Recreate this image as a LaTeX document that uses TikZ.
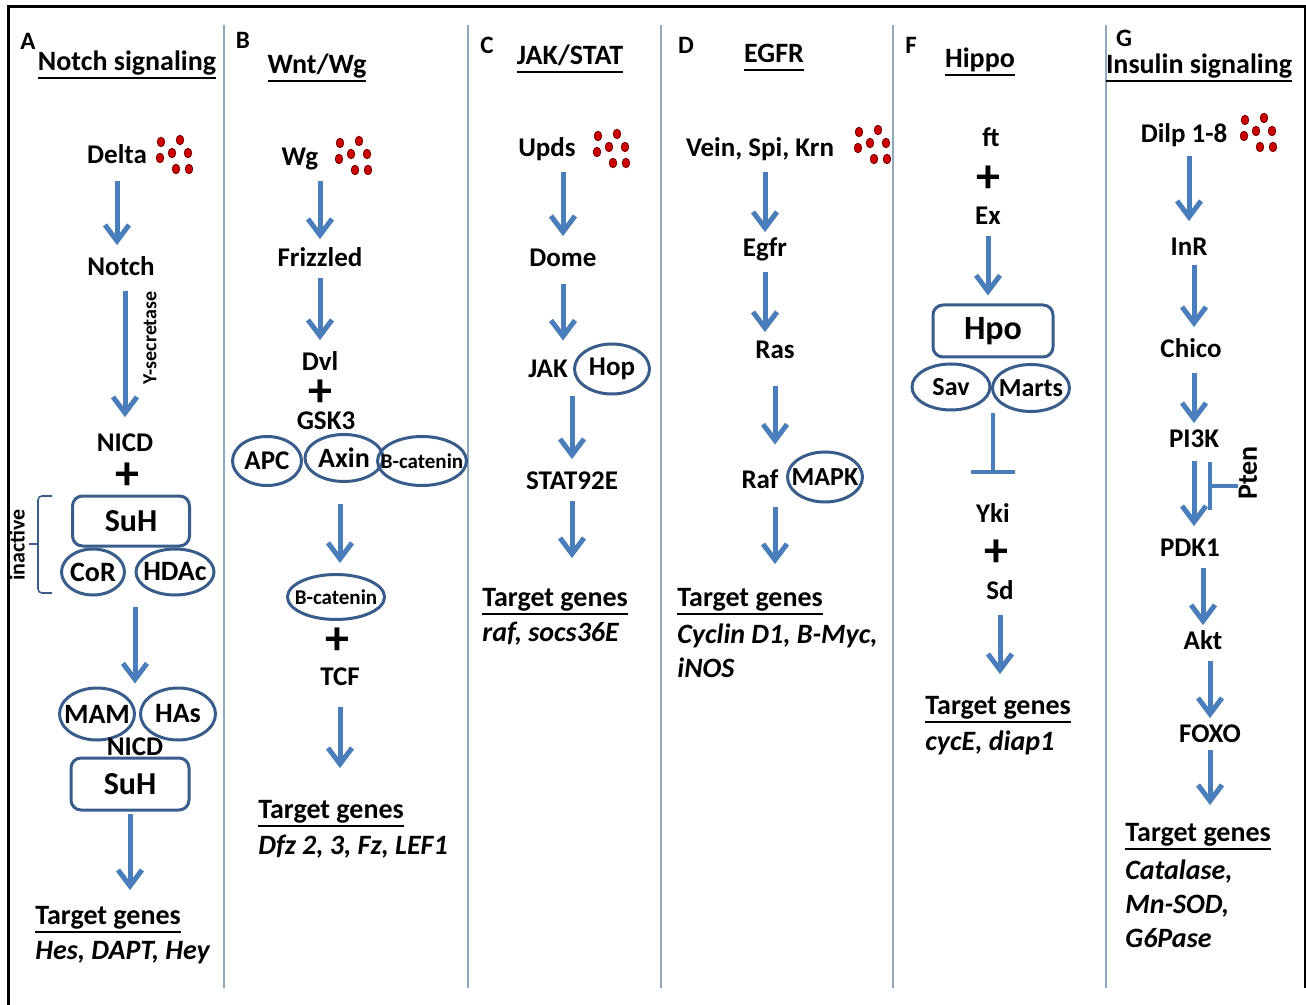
\documentclass[tikz,border=0pt]{standalone}
\usepackage{fontspec}
\setmainfont{Carlito}
\usetikzlibrary{positioning, shapes.geometric, arrows.meta}

\definecolor{sigblue}{RGB}{74,126,187}
\definecolor{cmpline}{RGB}{56,93,138}
\definecolor{divline}{RGB}{143,168,190}
\definecolor{dotred}{RGB}{205,0,0}
\definecolor{dotdark}{RGB}{110,0,0}

% underline below the descenders
\newcommand{\uln}[1]{\setbox0\hbox{#1}\rlap{\rule[-4.3pt]{\wd0}{1pt}}\box0}
% text of fixed-size ellipses, centred in a zero-width box
\newcommand{\zb}[1]{\makebox[0pt]{#1}}
% cluster of ligand dots round (x,y), in pixels
\newcommand{\ligand}[2]{%
  \foreach \dx/\dy in {-13/-13,6/-15,-2/-2,14/-2,-14/3,2/14,15/14}
    \filldraw[fill=dotred, draw=dotdark, line width=0.4pt] (#1+\dx,#2+\dy) ellipse (1.9pt and 2.4pt);}

\begin{document}
\begin{tikzpicture}[x=0.5pt, y=-0.5pt,
lbl/.style={font=\fontsize{13.5}{16}\selectfont\bfseries, text height=11pt, text depth=2.5pt, inner sep=1pt},
ttl/.style={font=\fontsize{14}{17}\selectfont\bfseries, inner sep=1pt},
pnl/.style={font=\fontsize{12.5}{14}\selectfont\bfseries, inner sep=0pt},
tgt/.style={font=\fontsize{14}{17}\selectfont\bfseries, anchor=west, text height=11pt, text depth=2.5pt, inner xsep=0pt, inner ysep=1pt},
gene/.style={font=\fontsize{14}{17}\selectfont\bfseries\itshape, anchor=west, align=left, inner sep=0pt},
plus/.style={font=\fontsize{24}{24}\selectfont\bfseries, inner sep=-3pt},
vtxt/.style={font=\fontsize{10}{12}\selectfont\bfseries, rotate=90, inner sep=0pt},
cmp/.style={ellipse, draw=cmpline, line width=1.5pt, inner sep=0pt, font=\fontsize{14}{16}\selectfont\bfseries},
rbox/.style={rectangle, rounded corners=5pt, draw=cmpline, line width=1.5pt, inner sep=0pt},
sig/.style={draw=sigblue, line width=2.5pt, -{Straight Barb[length=8pt, width=12pt]}, shorten <=4pt, shorten >=3pt},
inh/.style={draw=sigblue, line width=2pt, -{Bar[width=22pt]}}]
\useasboundingbox (0,0) rectangle (1306,1005);

% frame and column rules
\draw[line width=1.5pt] (8,1005) -- (8,7) -- (1305,7) -- (1305,988);
\foreach \xd in {224,468,661,893,1106}
  \draw[divline, line width=0.8pt] (\xd,25) -- (\xd,988);

% A: Notch
\node[pnl] (pA) at (28,41) {A};
\node[ttl] (tA) at (127,65) {\uln{Notch signaling}};
\node[lbl] (delta) at (117,155) {Delta};
\ligand{174}{155}
\node[lbl] (notch) at (121,267) {Notch};
\node[vtxt] (gsec) at (150,338) {Y-secretase};
\node[lbl] (nicd) at (125,443) {NICD};
\node[plus] (plusA) at (127,476) {+};
\node[rbox, minimum width=58.5pt, minimum height=25pt, font=\fontsize{16}{16}\selectfont\bfseries] (suh1) at (131,521) {SuH};
\node[cmp, minimum width=31.5pt, minimum height=23pt] (cor) at (93,572) {\zb{CoR}};
\node[cmp, minimum width=39pt, minimum height=23pt] (hdac) at (175,572) {\zb{HDAc}};
\node[vtxt, font=\fontsize{11}{13}\selectfont\bfseries] (inact) at (17,545) {inactive};
\draw[cmpline, line width=0.8pt, rounded corners=2pt] (52,496) -- (38,496) -- (38,593) -- (52,593);
\draw[cmpline, line width=0.8pt] (38,544) -- (29,544);
\node[cmp, minimum width=37.5pt, minimum height=26pt] (mam) at (97,714) {\zb{MAM}};
\node[cmp, minimum width=37.5pt, minimum height=26pt] (has) at (178,714) {\zb{HAs}};
\node[lbl] (nicd2) at (135,747) {NICD};
\node[rbox, minimum width=59pt, minimum height=26pt, font=\fontsize{16}{16}\selectfont\bfseries] (suh2) at (130,784) {SuH};
\node[tgt] (tgA) at (35,916) {\uln{Target genes}};
\node[gene] (gnA) at (35,953) {Hes, DAPT, Hey};

\draw[sig, shorten <=5pt] (delta) -- (delta |- notch.north);
\draw[sig, shorten >=5pt] (notch.south -| nicd) -- (nicd);
\draw[sig, shorten <=5pt, shorten >=1.5pt] (cor.south -| nicd2) -- (nicd2 |- mam.north);
\draw[sig, shorten <=1pt, shorten >=5pt] (suh2) -- (suh2 |- tgA.north);

% B: Wnt/Wg
\node[pnl] (pB) at (243,40) {B};
\node[ttl] (tB) at (317,68) {\uln{Wnt/Wg}};
\node[lbl] (wg) at (300,157) {Wg};
\ligand{353}{156}
\node[lbl] (frizzled) at (320,258) {Frizzled};
\node[lbl] (dvl) at (320,362) {Dvl};
\node[plus] (plusB) at (320,393) {+};
\node[lbl] (gsk) at (326,421) {GSK3};
\node[cmp, minimum width=34.5pt, minimum height=24.5pt, font=\fontsize{13.5}{16}\selectfont\bfseries] (apc) at (267,461) {\zb{APC}};
\node[cmp, minimum width=39pt, minimum height=23.5pt] (axin) at (344,458) {\zb{Axin}};
\node[cmp, minimum width=44.5pt, minimum height=24.5pt, font=\fontsize{10.5}{12}\selectfont\bfseries] (bcat) at (422,461) {\zb{B-catenin}};
\node[cmp, minimum width=48.5pt, minimum height=22.5pt, font=\fontsize{10.5}{12}\selectfont\bfseries] (bcat2) at (336,597) {\zb{B-catenin}};
\node[plus] (plusB2) at (337,641) {+};
\node[lbl] (tcf) at (340,677) {TCF};
\node[tgt] (tgB) at (258,810) {\uln{Target genes}};
\node[gene] (gnB) at (258,847) {Dfz 2, 3, Fz, LEF1};

\draw[sig, shorten >=1.5pt] (wg.south -| frizzled) -- (frizzled);
\draw[sig, shorten <=2pt] (frizzled) -- (dvl);
\draw[sig, shorten <=10.5pt, shorten >=5pt] (axin.south -| tcf) -- (tcf |- bcat2.north);
\draw[sig, shorten <=7pt, shorten >=13pt] (tcf) -- (tcf |- tgB.north);

% C: JAK/STAT
\node[pnl] (pC) at (487,45) {C};
\node[ttl] (tC) at (570,59) {\uln{JAK/STAT}};
\node[lbl] (upds) at (547,148) {Upds};
\ligand{611}{149}
\node[lbl] (dome) at (563,258) {Dome};
\node[lbl] (jak) at (548,369) {JAK};
\node[cmp, minimum width=37.5pt, minimum height=25pt, font=\fontsize{13.5}{16}\selectfont\bfseries] (hop) at (612,369) {\zb{Hop}};
\node[lbl] (stat) at (572,481) {STAT92E};
\node[tgt] (tgC) at (482,598) {\uln{Target genes}};
\node[gene] (gnC) at (482,634) {raf, socs36E};

\draw[sig] (upds.south -| dome) -- (dome);
\draw[sig, shorten <=5pt, shorten >=1pt] (dome) -- (dome |- hop.north);
\draw[sig, shorten <=0.5pt] (hop.south -| stat) -- (stat);
\draw[sig, shorten <=2pt, shorten >=12pt] (stat) -- (stat |- tgC.north);

% D: EGFR
\node[pnl] (pD) at (686,45) {D};
\node[ttl] (tD) at (774,58) {\uln{EGFR}};
\node[lbl] (vein) at (760,148) {Vein, Spi, Krn};
\ligand{872}{145}
\node[lbl] (egfr) at (765,248) {Egfr};
\node[lbl] (ras) at (775,350) {Ras};
\node[lbl] (raf) at (760,480) {Raf};
\node[cmp, minimum width=37.5pt, minimum height=25pt, font=\fontsize{13}{16}\selectfont\bfseries] (mapk) at (825,477) {\zb{MAPK}};
\node[tgt] (tgD) at (677,598) {\uln{Target genes}};
\node[gene] (gnD) at (677,650.5) {Cyclin D1, B-Myc,\\iNOS};

\draw[sig, shorten >=0pt] (vein.south -| egfr) -- (egfr);
\draw[sig, shorten >=1pt] (egfr) -- (egfr |- ras.north);
\draw[sig, shorten <=10pt] (ras) -- (ras |- mapk.north);
\draw[sig, shorten <=1.5pt, shorten >=9pt] (mapk.south -| ras) -- (ras |- tgD.north);

% F: Hippo
\node[pnl] (pF) at (911,45) {F};
\node[ttl] (tF) at (980,62) {\uln{Hippo}};
\node[lbl] (ft) at (991,138) {ft};
\node[plus] (plusF) at (988,179) {+};
\node[lbl] (ex) at (988,216) {Ex};
\node[rbox, minimum width=60pt, minimum height=26pt, font=\fontsize{17}{17}\selectfont\bfseries] (hpo) at (993,331) {Hpo};
\node[cmp, minimum width=39pt, minimum height=23pt, font=\fontsize{13}{16}\selectfont\bfseries] (sav) at (951,387) {\zb{Sav}};
\node[cmp, minimum width=38.5pt, minimum height=23.5pt, font=\fontsize{13}{16}\selectfont\bfseries] (marts) at (1031,388) {\zb{Marts}};
\node[lbl] (yki) at (993,514) {Yki};
\node[plus] (plusF2) at (996,553) {+};
\node[lbl] (sd) at (1000,591) {Sd};
\node[tgt] (tgF) at (925,706) {\uln{Target genes}};
\node[gene] (gnF) at (925,743) {cycE, diap1};

\draw[sig, shorten <=2pt, shorten >=4pt] (ex) -- (ex |- hpo.north);
\draw[inh, shorten <=1pt, shorten >=12pt] (sav.south -| yki) -- (yki);
\draw[sig, shorten >=8pt] (sd) -- (sd |- tgF.north);

% G: Insulin
\node[pnl] (pG) at (1124,38) {G};
\node[ttl] (tG) at (1199,68) {\uln{Insulin signaling}};
\node[lbl] (dilp) at (1184,134) {Dilp 1-8};
\ligand{1258}{133}
\node[lbl] (inr) at (1189,247) {InR};
\node[lbl] (chico) at (1191,349) {Chico};
\node[lbl] (pi3k) at (1194,439) {PI3K};
\node[vtxt, font=\fontsize{14}{16}\selectfont\bfseries] (pten) at (1248,473) {Pten};
\coordinate (ptenbar) at (1208,486);
\node[lbl] (pdk1) at (1190,548) {PDK1};
\node[lbl] (akt) at (1203,641) {Akt};
\node[lbl] (foxo) at (1210,734) {FOXO};
\node[tgt] (tgG) at (1125,833) {\uln{Target genes}};
\node[gene] (gnG) at (1125,904) {Catalase,\\Mn-SOD,\\G6Pase};

\draw[sig, shorten <=3pt, shorten >=5pt] (dilp.south -| inr) -- (inr);
\draw[sig, shorten <=1pt] (inr.south -| pi3k) -- (pi3k |- chico.north);
\draw[sig, shorten >=0pt] (chico.south -| pi3k) -- (pi3k);
\draw[sig, shorten <=3pt] (pi3k) -- (pi3k |- pdk1.north);
\draw[sig, shorten <=2pt, shorten >=0pt] (pdk1.south -| akt) -- (akt);
\draw[sig, shorten <=2pt, shorten >=0pt] (akt.south -| foxo) -- (foxo);
\draw[sig, shorten <=0pt, shorten >=6pt] (foxo) -- (foxo |- tgG.north);
\draw[inh, -{Bar[width=24pt]}] (pten.north |- ptenbar) -- (ptenbar);
\end{tikzpicture}
\end{document}
